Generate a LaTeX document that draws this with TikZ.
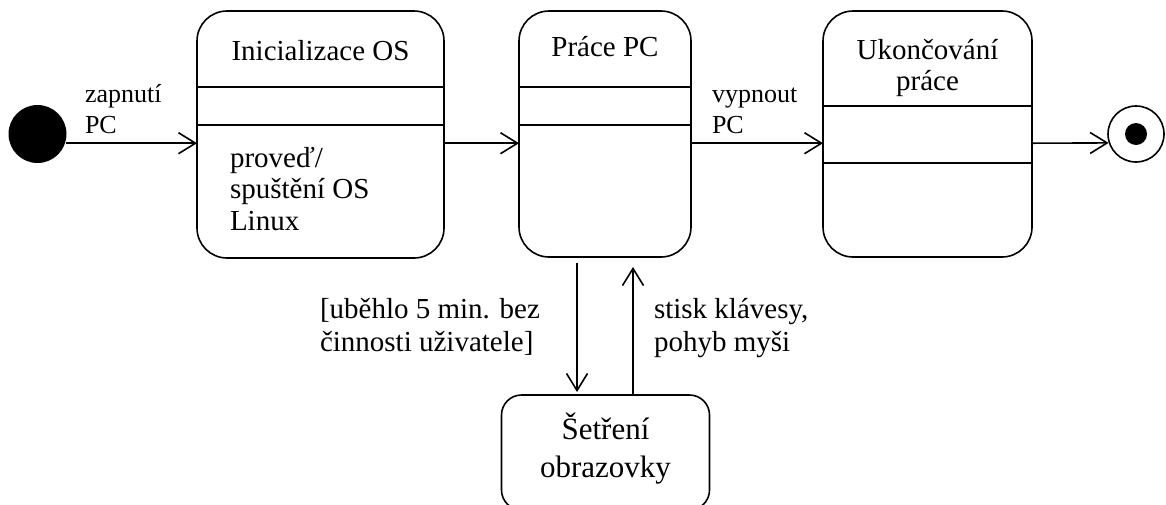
\documentclass[tikz,border=0pt]{standalone}
\usepackage{fontspec}
\setmainfont{Liberation Serif}
\usetikzlibrary{arrows.meta,calc}

\newcommand{\linesL}[1]{\begin{tabular}[t]{@{}l@{}}#1\end{tabular}}
\newcommand{\linesC}[1]{\begin{tabular}[t]{@{}c@{}}#1\end{tabular}}

\begin{document}
\begin{tikzpicture}[x=1pt,y=-1pt,
  line width=1.6pt,
  state/.style={draw, rounded corners=30pt, inner sep=0pt, outer sep=0pt},
  txt/.style={inner sep=0pt, outer sep=0pt},
  arr/.style={-{Straight Barb[length=17pt,width=21pt]}},
  big/.style={font=\fontsize{29}{31.5}\selectfont},
  small/.style={font=\fontsize{26}{31}\selectfont}]

\useasboundingbox (0,0) rectangle (1166,504);
\clip (0,0) rectangle (1166,504);

% pseudo-states
\node[circle, fill=black, inner sep=0pt, minimum size=58pt] (init) at (37.5,134) {};
\node[circle, draw, inner sep=0pt, minimum size=56pt] (final) at (1136,134) {};
\node[circle, fill=black, inner sep=0pt, minimum size=22pt] (finaldot) at (final.center) {};

% states
\node[state, minimum width=247pt, minimum height=247pt] (box1) at (320.5,134.5) {};
\node[state, minimum width=172pt, minimum height=246pt] (box2) at (605,134) {};
\node[state, minimum width=209pt, minimum height=246pt] (box3) at (927.5,134) {};
\node[state, rounded corners=20pt, minimum width=208pt, minimum height=115pt] (box4) at (605.5,452.5) {};

% compartment lines
\coordinate (r1) at (0,87);
\coordinate (r2) at (0,125);
\coordinate (r3) at (0,106);
\coordinate (r4) at (0,163);
\draw (box1.west |- r1) -- (box1.east |- r1);
\draw (box1.west |- r2) -- (box1.east |- r2);
\draw (box2.west |- r1) -- (box2.east |- r1);
\draw (box2.west |- r2) -- (box2.east |- r2);
\draw (box3.west |- r3) -- (box3.east |- r3);
\draw (box3.west |- r4) -- (box3.east |- r4);

% state texts
\node[txt, big, anchor=base] (t1) at (320.5,60) {Inicializace OS};
\node[txt, big, anchor=base west] (b1) at (230,167) {\linesL{proveď/\\spuštění OS\\Linux}};
\node[txt, big, anchor=base] (t2) at (605,56.5) {Práce PC};
\node[txt, font=\fontsize{29}{31}\selectfont, anchor=base] (t3) at (927.5,59.5) {\linesC{Ukončování\\práce}};
\node[txt, font=\fontsize{31}{38}\selectfont, anchor=base] (t4) at (605.5,439) {\linesC{Šetření\\obrazovky}};

% transitions
\draw[arr] (init.-18) -- (init.-18 -| box1.west);
\draw[arr] (box1.east |- init.-18) -- (box2.west |- init.-18);
\draw[arr] (box2.east |- init.-18) -- (box3.west |- init.-18);
\draw[arr] (box3.east |- init.-18) -- (final.198);

\coordinate (dn) at (577,0);
\coordinate (up) at (633,0);
\draw[arr, shorten <=6pt, shorten >=3pt] (box2.south -| dn) -- (box4.north -| dn);
\draw[arr, shorten >=10pt] (box4.north -| up) -- (box2.south -| up);

% transition labels
\node[txt, small, anchor=base west] (lz) at (85,102) {\linesL{zapnutí\\PC}};
\node[txt, small, anchor=base west] (lv) at (712,102) {\linesL{vypnout\\PC}};
\node[txt, font=\fontsize{29}{33.4}\selectfont, anchor=base west] (lb1) at (320,318) {\linesL{[uběhlo 5 min. bez\\činnosti uživatele]}};
\node[txt, font=\fontsize{29}{33.4}\selectfont, anchor=base west] (lb2) at (654,318) {\linesL{stisk klávesy,\\pohyb myši}};
\end{tikzpicture}
\end{document}
